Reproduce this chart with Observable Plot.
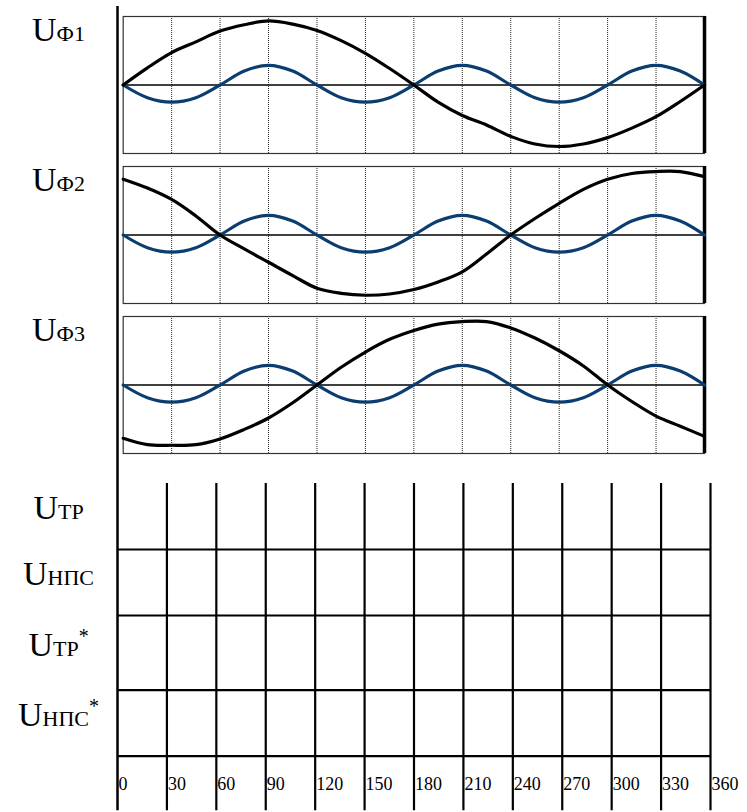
<!DOCTYPE html>
<html><head><meta charset="utf-8">
<script src="https://cdn.jsdelivr.net/npm/d3@7"></script>
<script src="https://cdn.jsdelivr.net/npm/@observablehq/plot@0.6"></script>
<style>
body{margin:0;background:#fff}
#chart{position:relative;width:747px;height:812px}
#chart svg{position:absolute;left:0;top:0}
</style>
</head><body><div id="chart"></div>
<script>
// ---- data ----
const angles = [0,15,30,45,60,75,90,105,120,135,150,165,180,195,210,225,240,255,270,285,300,315,330,345,360];
const phases = ["Ф1","Ф2","Ф3"];
const phaseA = [0,0.27,0.51,0.68,0.85,0.95,1.01,0.96,0.86,0.70,0.50,0.26,0.0,-0.27,-0.48,-0.63,-0.81,-0.93,-0.97,-0.93,-0.83,-0.68,-0.50,-0.26,0];
const phaseB = [0.88,0.74,0.56,0.30,0.0,-0.22,-0.43,-0.64,-0.84,-0.92,-0.95,-0.93,-0.86,-0.74,-0.58,-0.30,0.0,0.26,0.50,0.72,0.88,0.97,1.0,1.0,0.92];
const phaseC = [-0.84,-0.94,-0.95,-0.94,-0.85,-0.70,-0.52,-0.28,0.0,0.28,0.52,0.72,0.86,0.96,1.0,1.0,0.90,0.74,0.54,0.30,0.0,-0.26,-0.49,-0.65,-0.81];
const thirdHarmonic = [0,-0.2,-0.27,-0.2,0,0.22,0.31,0.22,0,-0.2,-0.27,-0.2,0,0.22,0.31,0.22,0,-0.2,-0.27,-0.2,0,0.22,0.31,0.22,0];
const xTicks = [0,30,60,90,120,150,180,210,240,270,300,330,360];
const rowSubs = ["ТР","НПС","ТР","НПС"];
const rowSups = ["","","*","*"];
const rowBounds = [0,1,2,3.13,4.13];

const FONT = "'Liberation Serif','Times New Roman',serif";
const phaseValues = [phaseA, phaseB, phaseC];
const table = [];
phases.forEach((p,i) => angles.forEach((a,j) => table.push({phase:p, deg:a, v:phaseValues[i][j], h:thirdHarmonic[j]})));

function richLabels(svg){
  d3.select(svg).selectAll("text").each(function(){
    const t = this.textContent;
    const m = /^U_([^\^]*)\^?(.*)$/.exec(t);
    if (!m) return;
    const sel = d3.select(this);
    sel.text(null);
    sel.append("tspan").attr("font-size",34).text("U");
    sel.append("tspan").attr("font-size",22).text(m[1]);
    if (m[2]) sel.append("tspan").attr("font-size",20).attr("dy",-13).text(m[2]);
  });
}

// ---- lower grid + main axis ----
const lower = Plot.plot({
  width:747, height:812, marginLeft:117, marginRight:37, marginTop:0, marginBottom:0,
  style:{background:"transparent", fontFamily:FONT},
  x:{domain:[0,360], axis:null},
  y:{domain:[-483/66, 329/66], reverse:true, axis:null},
  marks:[
    Plot.ruleX([0], {y1:-7.227, y2:4.96, stroke:"#000", strokeWidth:2.5}),
    Plot.ruleX(xTicks.slice(1), {y1:0, y2:4.96, stroke:"#000", strokeWidth:2.2}),
    Plot.ruleY(rowBounds.slice(1), {x1:0, x2:360, stroke:"#000", strokeWidth:2.2}),
    Plot.text(xTicks, {x:d=>d, y:4.55, text:d=>String(d), textAnchor:"start", dx:1, fontSize:18, fill:"#000"}),
    Plot.text(rowSubs, {y:(d,i)=>(rowBounds[i]+rowBounds[i+1])/2, text:(d,i)=>"U_"+d+(rowSups[i]?"^"+rowSups[i]:""),
      frameAnchor:"left", dx:-59, dy:-8, textAnchor:"middle", fontSize:34, fill:"#000"})
  ]
});

// ---- upper three phase panels ----
const upper = Plot.plot({
  width:747, height:460, marginLeft:122.7, marginRight:43, marginTop:16, marginBottom:7,
  style:{background:"transparent", fontFamily:FONT},
  x:{domain:[0,360], axis:null},
  y:{domain:[-1.08,1.08], axis:null},
  fy:{domain:phases, axis:null, paddingInner:0.0867, paddingOuter:0},
  marks:[
    Plot.ruleX(xTicks.slice(1,-1), {stroke:"#222", strokeWidth:1, strokeDasharray:"1,1"}),
    Plot.ruleY([0], {stroke:"#000", strokeWidth:1.5}),
    Plot.frame({stroke:"#333", strokeWidth:1.2}),
    Plot.ruleX([360], {stroke:"#000", strokeWidth:3.5}),
    Plot.line(table, {x:"deg", y:"h", fy:"phase", stroke:"#0b3d70", strokeWidth:3.2, curve:"catmull-rom"}),
    Plot.line(table, {x:"deg", y:"v", fy:"phase", stroke:"#000", strokeWidth:3.2, curve:"catmull-rom"}),
    Plot.text(phases, {fy:d=>d, text:d=>"U_"+d, frameAnchor:"top-left", lineAnchor:"top", dx:-64.7, dy:0,
      textAnchor:"middle", fontSize:34, fill:"#000"})
  ]
});

richLabels(lower);
richLabels(upper);
const chart = document.getElementById("chart");
chart.appendChild(lower);
chart.appendChild(upper);
</script>
</body></html>
